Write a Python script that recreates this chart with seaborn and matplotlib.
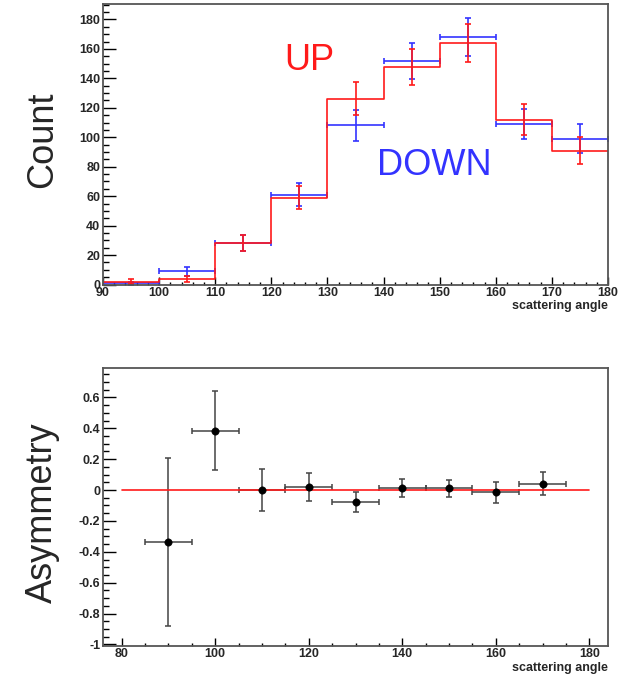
import matplotlib

matplotlib.use("Agg")
import matplotlib.pyplot as plt
import seaborn as sns
from matplotlib.ticker import FuncFormatter, MultipleLocator

# histogram of scattering angle, UP vs DOWN
BIN_EDGES = [90, 100, 110, 120, 130, 140, 150, 160, 170, 180]
BIN_CENTERS = [95, 105, 115, 125, 135, 145, 155, 165, 175]
COUNT_UP = [2, 4, 28, 59, 126, 148, 164, 112, 91]
ERR_UP = [1.4, 2.0, 5.3, 7.7, 11.2, 12.2, 12.8, 10.6, 9.5]
COUNT_DOWN = [1, 9, 28, 61, 108, 152, 168, 109, 99]
ERR_DOWN = [1.0, 3.0, 5.3, 7.8, 10.4, 12.3, 13.0, 10.4, 9.9]
BIN_HALF_WIDTH = 5

# asymmetry (DOWN - UP) / (DOWN + UP)
ASYM_X = [90, 100, 110, 120, 130, 140, 150, 160, 170]
ASYM = [-0.335, 0.385, 0.0, 0.017, -0.078, 0.013, 0.012, -0.014, 0.042]
ASYM_ERR = [0.545, 0.255, 0.134, 0.09, 0.067, 0.058, 0.055, 0.068, 0.072]
REF_X = [80, 180]
REF_Y = [0, 0]

RED = "#ff1a1a"
BLUE = "#3333ff"
GREY = "#444444"

sns.set_style("ticks")
plt.rcParams["font.family"] = ["Liberation Sans", "DejaVu Sans"]

fig = plt.figure(figsize=(6.25, 6.87), dpi=100)
ax1 = fig.add_axes([103 / 625, 1 - 284.5 / 687, 505 / 625, 280.5 / 687])
ax2 = fig.add_axes([103 / 625, 1 - 646 / 687, 505 / 625, 278 / 687])

# --- top: counts
ax1.errorbar(BIN_CENTERS, COUNT_DOWN, xerr=BIN_HALF_WIDTH, yerr=ERR_DOWN, fmt="none",
             ecolor=BLUE, elinewidth=1.2, capsize=2.5, capthick=1.2)
sns.histplot(x=BIN_CENTERS, weights=COUNT_UP, bins=BIN_EDGES, element="step", fill=False,
             color=RED, linewidth=1.2, ax=ax1)
ax1.errorbar(BIN_CENTERS, COUNT_UP, yerr=ERR_UP, fmt="none",
             ecolor=RED, elinewidth=1.2, capsize=2.5, capthick=1.2)
ax1.set_xlim(90, 180)
ax1.set_ylim(0, 190.5)
ax1.xaxis.set_major_locator(MultipleLocator(10))
ax1.xaxis.set_minor_locator(MultipleLocator(2))
ax1.yaxis.set_major_locator(MultipleLocator(20))
ax1.yaxis.set_minor_locator(MultipleLocator(5))
ax1.text(126.7, 145.7, "UP", color=RED, fontsize=26, ha="center", va="baseline")
ax1.text(149, 74.4, "DOWN", color=BLUE, fontsize=26, ha="center", va="baseline")

# --- bottom: asymmetry
ax2.errorbar(ASYM_X, ASYM, xerr=BIN_HALF_WIDTH, yerr=ASYM_ERR, fmt="none",
             ecolor=GREY, elinewidth=1.1, capsize=2.5, capthick=1.1, zorder=2)
sns.lineplot(x=REF_X, y=REF_Y, color=RED, linewidth=1.2, ax=ax2, zorder=3)
sns.scatterplot(x=ASYM_X, y=ASYM, color="black", edgecolor="black", s=28, ax=ax2, zorder=4)
ax2.set_xlim(76, 184)
ax2.set_ylim(-1.01, 0.79)
ax2.xaxis.set_major_locator(MultipleLocator(20))
ax2.xaxis.set_minor_locator(MultipleLocator(5))
ax2.yaxis.set_major_locator(MultipleLocator(0.2))
ax2.yaxis.set_minor_locator(MultipleLocator(0.05))


def fmt_tick(v, pos):
    v = round(v, 2)
    if abs(v) < 1e-9:
        return "0"
    return f"{v:g}"


ax2.yaxis.set_major_formatter(FuncFormatter(fmt_tick))

for ax in (ax1, ax2):
    ax.set_xlabel("")
    ax.set_ylabel("")
    for sp in ax.spines.values():
        sp.set_visible(True)
        sp.set_color("#555555")
        sp.set_linewidth(1.3)
    ax.tick_params(axis="both", which="both", direction="in", color="black", width=1.0,
                   labelsize=9, top=False, right=False)
    ax.tick_params(axis="y", which="major", length=9.4, pad=2)
    ax.tick_params(axis="y", which="minor", length=4.3)
    ax.tick_params(axis="x", which="major", length=5.5, pad=1.5)
    ax.tick_params(axis="x", which="minor", length=2.5)
    for lbl in ax.get_xticklabels() + ax.get_yticklabels():
        lbl.set_fontweight("bold")

fig.text(608 / 625, 1 - 309 / 687, "scattering angle", ha="right", va="baseline",
         fontsize=9, fontweight="bold")
fig.text(608 / 625, 1 - 670.5 / 687, "scattering angle", ha="right", va="baseline",
         fontsize=9, fontweight="bold")
fig.text(52 / 625, 1 - 140 / 687, "Count", rotation=90, rotation_mode="anchor",
         ha="center", va="baseline", fontsize=26)
fig.text(52 / 625, 1 - 512.5 / 687, "Asymmetry", rotation=90, rotation_mode="anchor",
         ha="center", va="baseline", fontsize=26)

fig.savefig("out.png", dpi=100)
